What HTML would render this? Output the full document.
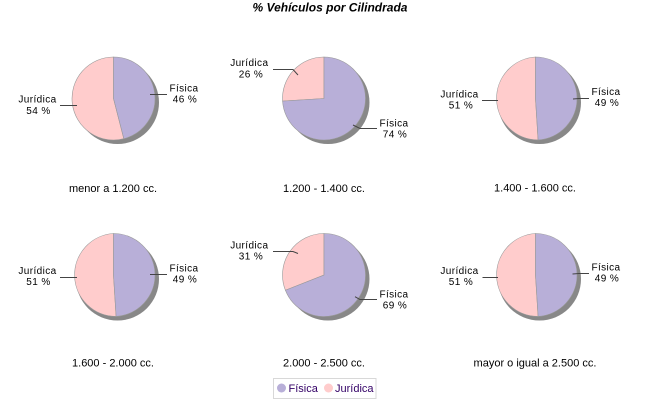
<!DOCTYPE html>
<html><head><meta charset="utf-8"><style>
html,body{margin:0;padding:0;background:#fff;}
svg{display:block;}
.lbl{font-family:"Liberation Sans",sans-serif;font-size:10px;letter-spacing:0.4px;fill:#000;}
.sub{font-family:"Liberation Sans",sans-serif;font-size:11px;fill:#000;}
.leg{font-family:"Liberation Sans",sans-serif;font-size:11px;fill:#330066;}
.f{fill:#b8afd8;stroke:#999;stroke-width:0.6;}
.j{fill:#ffcccc;stroke:#999;stroke-width:0.6;}
.sh{fill:#888;}
.ln{stroke:#444;stroke-width:1;fill:none;}
</style></head><body>
<svg width="650" height="400" viewBox="0 0 650 400" xmlns="http://www.w3.org/2000/svg">
<rect width="650" height="400" fill="#fff"/>
<text x="330" y="11.5" text-anchor="middle" font-family="Liberation Sans, sans-serif" font-size="12" font-weight="bold" font-style="italic">% Vehículos por Cilindrada</text>

<!-- Pie 1 -->
<circle class="sh" cx="117.5" cy="102.5" r="41.5"/>
<path class="j" d="M113.5 98.5 L123.82 138.7 A41.5 41.5 0 1 1 113.5 57 Z"/>
<path class="f" d="M113.5 98.5 L113.5 57 A41.5 41.5 0 0 1 123.82 138.7 Z"/>
<path class="ln" d="M150 94.5 L167 94.5"/>
<path class="ln" d="M60 105.5 L77 105.5"/>
<text class="lbl" x="184" y="91.5" text-anchor="middle">Física</text>
<text class="lbl" x="185" y="102.7" text-anchor="middle">46 %</text>
<text class="lbl" x="37.5" y="102.7" text-anchor="middle">Jurídica</text>
<text class="lbl" x="38.5" y="114" text-anchor="middle">54 %</text>
<text class="sub" x="113" y="192" text-anchor="middle">menor a 1.200 cc.</text>

<!-- Pie 2 -->
<circle class="sh" cx="328" cy="102.5" r="41.5"/>
<path class="j" d="M324 98.5 L282.58 101.1 A41.5 41.5 0 0 1 324 57 Z"/>
<path class="f" d="M324 98.5 L324 57 A41.5 41.5 0 1 1 282.58 101.1 Z"/>
<path class="ln" d="M273 69.5 L293 69.5 L298 75"/>
<path class="ln" d="M353 125 L360 128.5 L377 128.5"/>
<text class="lbl" x="249.3" y="66" text-anchor="middle">Jurídica</text>
<text class="lbl" x="251" y="77.5" text-anchor="middle">26 %</text>
<text class="lbl" x="394" y="126.7" text-anchor="middle">Física</text>
<text class="lbl" x="395" y="137.5" text-anchor="middle">74 %</text>
<text class="sub" x="324" y="192" text-anchor="middle">1.200 - 1.400 cc.</text>

<!-- Pie 3 -->
<circle class="sh" cx="539.5" cy="102.5" r="41.5"/>
<path class="j" d="M535.5 98.5 L538.1 139.92 A41.5 41.5 0 0 1 535.5 57 Z"/>
<path class="f" d="M535.5 98.5 L535.5 57 A41.5 41.5 0 0 1 538.1 139.92 Z"/>
<path class="ln" d="M482 100.5 L498 100.5"/>
<path class="ln" d="M573 99 L579 98.5 L589 98.5"/>
<text class="lbl" x="459.5" y="97.3" text-anchor="middle">Jurídica</text>
<text class="lbl" x="461" y="108.3" text-anchor="middle">51 %</text>
<text class="lbl" x="606" y="95" text-anchor="middle">Física</text>
<text class="lbl" x="607" y="106" text-anchor="middle">49 %</text>
<text class="sub" x="535" y="191.5" text-anchor="middle">1.400 - 1.600 cc.</text>

<!-- Pie 4 -->
<circle class="sh" cx="117.5" cy="279" r="41.5"/>
<path class="j" d="M113.5 275 L116.1 316.42 A41.5 41.5 0 0 1 113.5 233.5 Z"/>
<path class="f" d="M113.5 275 L113.5 233.5 A41.5 41.5 0 0 1 116.1 316.42 Z"/>
<path class="ln" d="M60 277.5 L77 277.5"/>
<path class="ln" d="M150 274.5 L167 274.5"/>
<text class="lbl" x="37.5" y="274" text-anchor="middle">Jurídica</text>
<text class="lbl" x="38.5" y="285" text-anchor="middle">51 %</text>
<text class="lbl" x="184" y="271.7" text-anchor="middle">Física</text>
<text class="lbl" x="185" y="282.7" text-anchor="middle">49 %</text>
<text class="sub" x="113" y="366.5" text-anchor="middle">1.600 - 2.000 cc.</text>

<!-- Pie 5 -->
<circle class="sh" cx="328" cy="279" r="41.5"/>
<path class="j" d="M324 275 L285.41 290.28 A41.5 41.5 0 0 1 324 233.5 Z"/>
<path class="f" d="M324 275 L324 233.5 A41.5 41.5 0 1 1 285.41 290.28 Z"/>
<path class="ln" d="M273 251.5 L293 251.5 L298 253.5"/>
<path class="ln" d="M355 296.7 L360 299.5 L377 299.5"/>
<text class="lbl" x="249.3" y="248.3" text-anchor="middle">Jurídica</text>
<text class="lbl" x="251" y="259.3" text-anchor="middle">31 %</text>
<text class="lbl" x="394" y="297.3" text-anchor="middle">Física</text>
<text class="lbl" x="395" y="308.3" text-anchor="middle">69 %</text>
<text class="sub" x="324" y="366.5" text-anchor="middle">2.000 - 2.500 cc.</text>

<!-- Pie 6 -->
<circle class="sh" cx="539.5" cy="279" r="41.5"/>
<path class="j" d="M535.5 275 L538.1 316.42 A41.5 41.5 0 0 1 535.5 233.5 Z"/>
<path class="f" d="M535.5 275 L535.5 233.5 A41.5 41.5 0 0 1 538.1 316.42 Z"/>
<path class="ln" d="M482.5 277.5 L498 277.5"/>
<path class="ln" d="M572.5 274 L579 273.5 L589 273.5"/>
<text class="lbl" x="459.5" y="274" text-anchor="middle">Jurídica</text>
<text class="lbl" x="461" y="285" text-anchor="middle">51 %</text>
<text class="lbl" x="606" y="270.7" text-anchor="middle">Física</text>
<text class="lbl" x="607" y="281.7" text-anchor="middle">49 %</text>
<text class="sub" x="535" y="366.5" text-anchor="middle">mayor o igual a 2.500 cc.</text>

<!-- Legend -->
<rect x="273.5" y="378.5" width="102.5" height="20" fill="#fff" stroke="#d8d8d8" stroke-width="1"/>
<circle cx="281.5" cy="388" r="4.5" fill="#b8afd8"/>
<text class="leg" x="288.5" y="392">Física</text>
<circle cx="328.5" cy="388" r="4.5" fill="#ffcccc"/>
<text class="leg" x="335" y="392">Jurídica</text>
</svg>
</body></html>
